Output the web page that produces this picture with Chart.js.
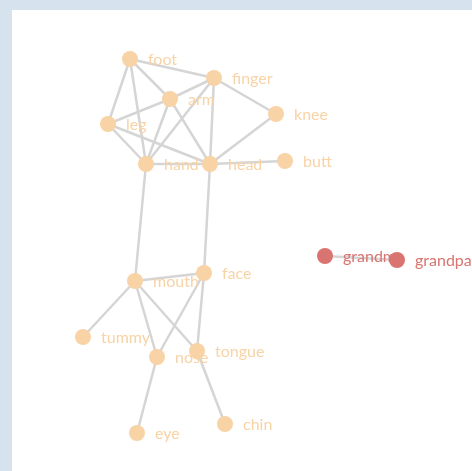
<!DOCTYPE html>
<html>
<head>
<meta charset="utf-8">
<script src="https://cdn.jsdelivr.net/npm/chart.js@4/dist/chart.umd.min.js"></script>
<style>
    body { margin: 0; background: #d6e2ee; width: 472px; height: 471px; overflow: hidden; }
    #panel { position: absolute; left: 12px; top: 10px; width: 460px; height: 461px; background: #ffffff; }
</style>
</head>
<body>
<div id="panel"><canvas id="graph" width="460" height="461"></canvas></div>
<script>
// Node layout (page coordinates) and groups
const nodeNames = ['foot', 'finger', 'arm', 'knee', 'leg', 'hand', 'head', 'butt',
    'mouth', 'face', 'tummy', 'nose', 'tongue', 'eye', 'chin', 'grandma', 'grandpa'];
const nodeX = [130, 214, 170, 276, 108, 146, 210, 285, 135, 204, 83, 157, 197, 137, 225, 325, 397];
const nodeY = [59, 78, 99, 114, 124, 164, 164, 161, 281, 273, 337, 357, 351, 433, 424, 256, 260];
const nodeGroup = [0, 0, 0, 0, 0, 0, 0, 0, 0, 0, 0, 0, 0, 0, 0, 1, 1];

// Links as [source, target]
const edges = [
    ['foot', 'finger'], ['foot', 'arm'], ['foot', 'leg'], ['foot', 'hand'],
    ['finger', 'arm'], ['finger', 'hand'], ['finger', 'head'], ['finger', 'knee'],
    ['arm', 'leg'], ['arm', 'hand'], ['arm', 'head'],
    ['leg', 'hand'], ['leg', 'head'],
    ['hand', 'head'], ['head', 'knee'], ['head', 'butt'],
    ['hand', 'mouth'], ['head', 'face'],
    ['mouth', 'face'], ['mouth', 'tummy'], ['mouth', 'nose'], ['mouth', 'tongue'],
    ['face', 'nose'], ['face', 'tongue'],
    ['nose', 'eye'], ['tongue', 'chin'],
    ['grandma', 'grandpa']
];

const groupColors = ['#f8d3a6', '#d97470'];
const edgeColor = '#d5d5d5';

const pointOf = name => {
    const i = nodeNames.indexOf(name);
    return { x: nodeX[i], y: nodeY[i] };
};

// higher order is drawn first, so edges sit under the nodes
const edgeDatasets = edges.map(([a, b]) => ({
    type: 'line',
    order: 1,
    data: [pointOf(a), pointOf(b)],
    borderColor: edgeColor,
    borderWidth: 2.5,
    pointRadius: 0,
    fill: false,
    tension: 0
}));

const nodeDataset = {
    type: 'scatter',
    order: 0,
    data: nodeNames.map((n, i) => ({ x: nodeX[i], y: nodeY[i] })),
    backgroundColor: nodeGroup.map(g => groupColors[g]),
    borderWidth: 0,
    pointRadius: 8,
    pointHoverRadius: 8
};

// labels go between edges and nodes
const nodeLabels = {
    id: 'nodeLabels',
    beforeDatasetDraw(chart, args) {
        if (args.index !== edgeDatasets.length) return;
        const { ctx, scales } = chart;
        ctx.save();
        ctx.font = '16px Lato, "Open Sans", sans-serif';
        ctx.textAlign = 'left';
        ctx.textBaseline = 'middle';
        nodeNames.forEach((name, i) => {
            ctx.fillStyle = groupColors[nodeGroup[i]];
            ctx.fillText(name, scales.x.getPixelForValue(nodeX[i]) + 18, scales.y.getPixelForValue(nodeY[i]) + 1);
        });
        ctx.restore();
    }
};

new Chart(document.getElementById('graph'), {
    type: 'scatter',
    data: { datasets: [...edgeDatasets, nodeDataset] },
    options: {
        responsive: false,
        animation: false,
        layout: { padding: 0, autoPadding: false },
        plugins: { legend: { display: false }, tooltip: { enabled: false } },
        scales: {
            x: { type: 'linear', min: 12, max: 472, display: false },
            y: { type: 'linear', min: 10, max: 471, reverse: true, display: false }
        }
    },
    plugins: [nodeLabels]
});
</script>
</body>
</html>
